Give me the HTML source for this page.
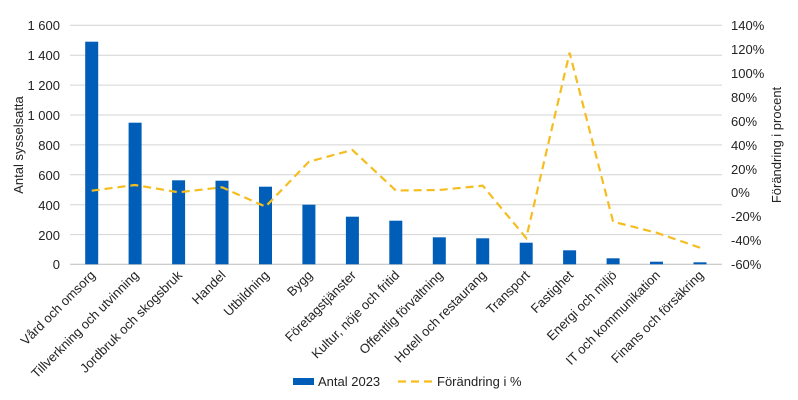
<!DOCTYPE html><html><head><meta charset="utf-8"><style>body{margin:0;background:#fff}svg{display:block;font-family:"Liberation Sans",Arial,sans-serif}</style></head><body>
<svg width="798" height="400" viewBox="0 0 798 400" xmlns="http://www.w3.org/2000/svg">
<g stroke="#d4d4d4" stroke-width="1">
<line x1="70" x2="722" y1="25.3" y2="25.3"/><line x1="70" x2="722" y1="55.2" y2="55.2"/><line x1="70" x2="722" y1="85.1" y2="85.1"/><line x1="70" x2="722" y1="115" y2="115"/><line x1="70" x2="722" y1="144.9" y2="144.9"/><line x1="70" x2="722" y1="174.8" y2="174.8"/><line x1="70" x2="722" y1="204.7" y2="204.7"/><line x1="70" x2="722" y1="234.6" y2="234.6"/><line x1="70" x2="722" y1="264.3" y2="264.3" stroke="#bbb"/>
</g>
<g fill="#222" font-size="13">
<text x="60" y="30" text-anchor="end">1 600</text><text x="60" y="60" text-anchor="end">1 400</text><text x="60" y="90" text-anchor="end">1 200</text><text x="60" y="120" text-anchor="end">1 000</text><text x="60" y="150" text-anchor="end">800</text><text x="60" y="180" text-anchor="end">600</text><text x="60" y="210" text-anchor="end">400</text><text x="60" y="240" text-anchor="end">200</text><text x="60" y="269" text-anchor="end">0</text>
<text x="731" y="30">140%</text><text x="731" y="54">120%</text><text x="731" y="78">100%</text><text x="731" y="102">80%</text><text x="731" y="126">60%</text><text x="731" y="150">40%</text><text x="731" y="174">20%</text><text x="731" y="197">0%</text><text x="731" y="221">-20%</text><text x="731" y="245">-40%</text><text x="731" y="269">-60%</text>
<text transform="translate(23,145) rotate(-90)" text-anchor="middle">Antal sysselsatta</text>
<text transform="translate(781,145) rotate(-90)" text-anchor="middle">Förändring i procent</text>
</g>
<g fill="#005eb8">
<rect x="85.2" y="41.7" width="13" height="222.6"/>
<rect x="128.6" y="122.7" width="13" height="141.6"/>
<rect x="172.1" y="180.3" width="13" height="84"/>
<rect x="215.5" y="180.7" width="13" height="83.6"/>
<rect x="259" y="186.7" width="13" height="77.6"/>
<rect x="302.4" y="204.7" width="13" height="59.6"/>
<rect x="345.9" y="216.7" width="13" height="47.6"/>
<rect x="389.3" y="220.7" width="13" height="43.6"/>
<rect x="432.8" y="237.3" width="13" height="27"/>
<rect x="476.2" y="238.3" width="13" height="26"/>
<rect x="519.7" y="242.7" width="13" height="21.6"/>
<rect x="563.1" y="250.3" width="13" height="14"/>
<rect x="606.6" y="258.3" width="13" height="6"/>
<rect x="650" y="261.7" width="13" height="2.6"/>
<rect x="693.5" y="262.3" width="13" height="2"/>
</g>
<polyline fill="none" stroke="#f5bd1f" stroke-width="2.2" stroke-dasharray="8,5" points="91.7,190.7 135.1,185 178.6,192.3 222,187.3 265.5,206.7 308.9,161.7 352.4,150 395.8,190.5 439.3,190 482.7,185.7 526.2,238 569.6,52.7 613.1,221.7 656.5,232.7 700,247.7"/>
<g fill="#222" font-size="13" text-anchor="end">
<text transform="translate(96,276) rotate(-45)">Vård och omsorg</text>
<text transform="translate(139.5,276) rotate(-45)">Tillverkning och utvinning</text>
<text transform="translate(183,276) rotate(-45)">Jordbruk och skogsbruk</text>
<text transform="translate(226.4,276) rotate(-45)">Handel</text>
<text transform="translate(269.9,276) rotate(-45)">Utbildning</text>
<text transform="translate(313.3,276) rotate(-45)">Bygg</text>
<text transform="translate(356.8,276) rotate(-45)">Företagstjänster</text>
<text transform="translate(400.2,276) rotate(-45)">Kultur, nöje och fritid</text>
<text transform="translate(443.7,276) rotate(-45)">Offentlig förvaltning</text>
<text transform="translate(487.1,276) rotate(-45)">Hotell och restaurang</text>
<text transform="translate(530.6,276) rotate(-45)">Transport</text>
<text transform="translate(574,276) rotate(-45)">Fastighet</text>
<text transform="translate(617.5,276) rotate(-45)">Energi och miljö</text>
<text transform="translate(660.9,276) rotate(-45)">IT och kommunikation</text>
<text transform="translate(704.4,276) rotate(-45)">Finans och försäkring</text>
</g>
<rect x="293" y="378" width="21" height="7" fill="#005eb8"/>
<text x="318" y="386" font-size="13" fill="#222">Antal 2023</text>
<line x1="398" x2="432" y1="381.5" y2="381.5" stroke="#f5bd1f" stroke-width="2.2" stroke-dasharray="8,5"/>
<text x="437" y="386" font-size="13" fill="#222">Förändring i %</text>
</svg>
</body></html>
